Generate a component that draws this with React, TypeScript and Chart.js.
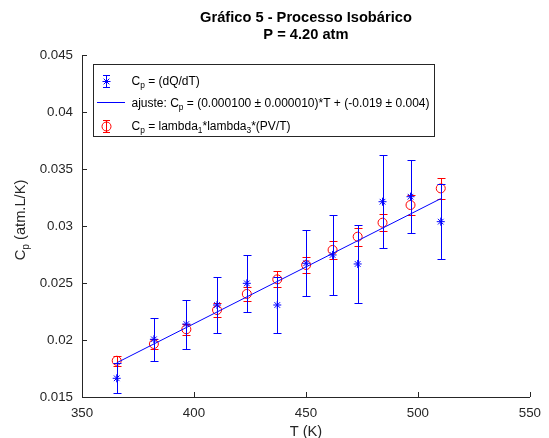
import React, { useEffect, useRef } from 'react';
import { Chart, registerables } from 'chart.js';

Chart.register(...registerables);

// ---- data ----
const T = [365.5, 382.1, 396.6, 410.3, 423.6, 437.2, 450.1, 461.9, 473.1, 484.2, 496.7, 510.2];
const cpDQ = [0.01664, 0.02006, 0.0214, 0.02307, 0.02497, 0.02307, 0.02673, 0.02746, 0.02667, 0.03213, 0.03257, 0.03038];
const cpDQErr = [0.0013, 0.00186, 0.00215, 0.00246, 0.0025, 0.00246, 0.0029, 0.0035, 0.0034, 0.0041, 0.0032, 0.0033];
const cpPV = [0.01818, 0.01965, 0.02094, 0.02263, 0.02404, 0.02532, 0.02658, 0.0279, 0.02906, 0.03029, 0.03184, 0.0333];
const cpPVErr = [0.00044, 0.00044, 0.0005, 0.0006, 0.00062, 0.0007, 0.0007, 0.00076, 0.00078, 0.00072, 0.00085, 0.0009];
const fitT = [365.5, 510.2];
const fitCp = [0.018, 0.0324];
const xTicks = [350, 400, 450, 500, 550];
const yTicks = [0.015, 0.02, 0.025, 0.03, 0.035, 0.04, 0.045];
const titleLines = ['Gráfico 5 - Processo Isobárico', 'P = 4.20 atm'];
const xLabel = 'T (K)';
const yLabelSegs = [{ t: 'C' }, { t: 'p', sub: true }, { t: ' (atm.L/K)' }];
const legendRows = [
  [{ t: 'C' }, { t: 'p', sub: true }, { t: ' = (dQ/dT)' }],
  [{ t: 'ajuste: C' }, { t: 'p', sub: true }, { t: ' = (0.000100 ± 0.000010)*T + (-0.019 ± 0.004)' }],
  [{ t: 'C' }, { t: 'p', sub: true }, { t: ' = lambda' }, { t: '1', sub: true }, { t: '*lambda' }, { t: '3', sub: true }, { t: '*(PV/T)' }],
];

const BLUE = '#0000ff';
const RED = '#ff0000';
const AX = '#262626';
const FAMILY = '"Liberation Sans", Arial, Helvetica, sans-serif';

function measureRich(ctx: CanvasRenderingContext2D, segs: any[], size: number, weight = '') {
  let w = 0;
  for (const s of segs) {
    const fs = s.sub ? size * 0.7 : size;
    ctx.font = `${weight} ${fs}px ${FAMILY}`;
    w += ctx.measureText(s.t).width;
  }
  return w;
}

function drawRich(ctx: CanvasRenderingContext2D, segs: any[], x: number, y: number, size: number, color: string, weight = '') {
  let cx = x;
  ctx.textAlign = 'left';
  ctx.textBaseline = 'alphabetic';
  ctx.fillStyle = color;
  for (const s of segs) {
    const fs = s.sub ? size * 0.7 : size;
    ctx.font = `${weight} ${fs}px ${FAMILY}`;
    ctx.fillText(s.t, cx, s.sub ? y + size * 0.25 : y);
    cx += ctx.measureText(s.t).width;
  }
}

function drawStar(ctx: CanvasRenderingContext2D, x: number, y: number, r: number) {
  ctx.beginPath();
  ctx.moveTo(x - r, y); ctx.lineTo(x + r, y);
  ctx.moveTo(x, y - r); ctx.lineTo(x, y + r);
  const d = r * 0.7071;
  ctx.moveTo(x - d, y - d); ctx.lineTo(x + d, y + d);
  ctx.moveTo(x - d, y + d); ctx.lineTo(x + d, y - d);
  ctx.stroke();
}

function drawErrBar(ctx: CanvasRenderingContext2D, x: number, yTop: number, yBot: number, cap: number) {
  ctx.beginPath();
  ctx.moveTo(x, yTop); ctx.lineTo(x, yBot);
  ctx.moveTo(x - cap, yTop); ctx.lineTo(x + cap, yTop);
  ctx.moveTo(x - cap, yBot); ctx.lineTo(x + cap, yBot);
  ctx.stroke();
}

const errorBarPlugin = {
  id: 'errbars',
  beforeDatasetDraw(chart: any, args: any) {
    const ds = chart.data.datasets[args.index];
    if (!ds.errors) return;
    const ctx = chart.ctx as CanvasRenderingContext2D;
    const xs = chart.scales.x;
    const ys = chart.scales.y;
    ctx.save();
    ctx.strokeStyle = ds.errColor;
    ctx.lineWidth = 1;
    ds.data.forEach((p: any, i: number) => {
      const px = Math.round(xs.getPixelForValue(p.x)) + 0.5;
      const yTop = Math.round(ys.getPixelForValue(p.y + ds.errors[i])) + 0.5;
      const yBot = Math.round(ys.getPixelForValue(p.y - ds.errors[i])) + 0.5;
      drawErrBar(ctx, px, yTop, yBot, 4);
    });
    ctx.restore();
  },
};

const decorPlugin = {
  id: 'decor',
  afterDraw(chart: any) {
    const ctx = chart.ctx as CanvasRenderingContext2D;
    const area = chart.chartArea;
    const xs = chart.scales.x;
    const ys = chart.scales.y;
    ctx.save();
    // inward ticks
    ctx.strokeStyle = AX;
    ctx.lineWidth = 1;
    ctx.beginPath();
    for (const v of xTicks) {
      const px = Math.round(xs.getPixelForValue(v)) + 0.5;
      ctx.moveTo(px, area.bottom);
      ctx.lineTo(px, area.bottom - 5);
    }
    for (const v of yTicks) {
      const py = Math.round(ys.getPixelForValue(v)) + 0.5;
      ctx.moveTo(area.left, py);
      ctx.lineTo(area.left + 5, py);
    }
    ctx.stroke();

    const cx = (area.left + area.right) / 2;
    // title
    ctx.fillStyle = '#000';
    ctx.textAlign = 'center';
    ctx.textBaseline = 'alphabetic';
    ctx.font = `bold 14.67px ${FAMILY}`;
    ctx.fillText(titleLines[0], cx, 21.5);
    ctx.fillText(titleLines[1], cx, 39.3);

    // x label
    ctx.fillStyle = AX;
    ctx.font = `14.67px ${FAMILY}`;
    ctx.fillText(xLabel, cx, 436);

    // y label (rotated)
    const yw = measureRich(ctx, yLabelSegs, 14.67);
    ctx.save();
    ctx.translate(25, 220);
    ctx.rotate(-Math.PI / 2);
    drawRich(ctx, yLabelSegs, -yw / 2, 0, 14.67, AX);
    ctx.restore();

    // legend box
    const bx = 93.5, by = 64.5, bw = 341, bh = 72;
    ctx.fillStyle = '#fff';
    ctx.fillRect(bx, by, bw, bh);
    ctx.strokeStyle = AX;
    ctx.lineWidth = 1;
    ctx.strokeRect(bx, by, bw, bh);
    const rowsY = [80.7, 102.3, 125.7];
    const mx = 106.5;
    // row 1 marker
    ctx.strokeStyle = BLUE;
    drawErrBar(ctx, mx, Math.round(rowsY[0] - 6) + 0.5, Math.round(rowsY[0] + 6) + 0.5, 3.5);
    drawStar(ctx, mx, Math.round(rowsY[0]) + 0.5, 4);
    // row 2 line
    ctx.beginPath();
    ctx.moveTo(97, Math.round(rowsY[1]) + 0.5);
    ctx.lineTo(125, Math.round(rowsY[1]) + 0.5);
    ctx.stroke();
    // row 3 marker
    ctx.strokeStyle = RED;
    drawErrBar(ctx, mx, Math.round(rowsY[2] - 6) + 0.5, Math.round(rowsY[2] + 6) + 0.5, 3.5);
    ctx.beginPath();
    ctx.arc(mx, Math.round(rowsY[2]) + 0.5, 4.5, 0, Math.PI * 2);
    ctx.stroke();
    // legend texts
    legendRows.forEach((segs, i) => {
      drawRich(ctx, segs, 131.5, rowsY[i] + 4.3, 12, '#000');
    });
    ctx.restore();
  },
};

export default function App() {
  const ref = useRef<HTMLCanvasElement>(null);
  useEffect(() => {
    const canvas = ref.current!;
    const tickFont = { family: FAMILY, size: 13.33 };
    const chart = new Chart(canvas, {
      type: 'scatter',
      data: {
        datasets: [
          {
            label: 'dQdT',
            data: T.map((t, i) => ({ x: t, y: cpDQ[i] })),
            pointStyle: 'star',
            pointRadius: 4,
            borderColor: BLUE,
            backgroundColor: BLUE,
            borderWidth: 1,
            showLine: false,
            errors: cpDQErr,
            errColor: BLUE,
          } as any,
          {
            label: 'fit',
            data: fitT.map((t, i) => ({ x: t, y: fitCp[i] })),
            showLine: true,
            pointRadius: 0,
            borderColor: BLUE,
            borderWidth: 1,
            fill: false,
            tension: 0,
          } as any,
          {
            label: 'PVT',
            data: T.map((t, i) => ({ x: t, y: cpPV[i] })),
            pointStyle: 'circle',
            pointRadius: 4.5,
            borderColor: RED,
            backgroundColor: 'rgba(0,0,0,0)',
            borderWidth: 1,
            showLine: false,
            errors: cpPVErr,
            errColor: RED,
          } as any,
        ],
      },
      options: {
        responsive: false,
        animation: false,
        devicePixelRatio: 1,
        events: [],
        layout: { padding: { left: 0, right: 18, top: 55, bottom: 0 } },
        plugins: {
          legend: { display: false },
          title: { display: false },
          tooltip: { enabled: false },
        },
        scales: {
          x: {
            type: 'linear',
            min: 350,
            max: 550,
            afterBuildTicks: (s: any) => { s.ticks = xTicks.map((v) => ({ value: v })); },
            afterFit: (s: any) => { s.height = 41; },
            grid: { display: false, drawTicks: false },
            border: { display: true, color: AX, width: 1 },
            ticks: { padding: 8, color: AX, font: tickFont, maxRotation: 0, callback: (v: any) => String(v) },
          },
          y: {
            type: 'linear',
            min: 0.015,
            max: 0.045,
            afterBuildTicks: (s: any) => { s.ticks = yTicks.map((v) => ({ value: v })); },
            afterFit: (s: any) => { s.width = 82; },
            grid: { display: false, drawTicks: false },
            border: { display: true, color: AX, width: 1 },
            ticks: { padding: 9, color: AX, font: tickFont, callback: (v: any) => String(Number(Number(v).toFixed(4))) },
          },
        },
      } as any,
      plugins: [errorBarPlugin, decorPlugin],
    });
    return () => chart.destroy();
  }, []);
  return (
    <div style={{ position: 'fixed', left: 0, top: 0, width: 549, height: 438, background: '#fff' }}>
      <canvas ref={ref} width={549} height={438} style={{ display: 'block' }} />
    </div>
  );
}
